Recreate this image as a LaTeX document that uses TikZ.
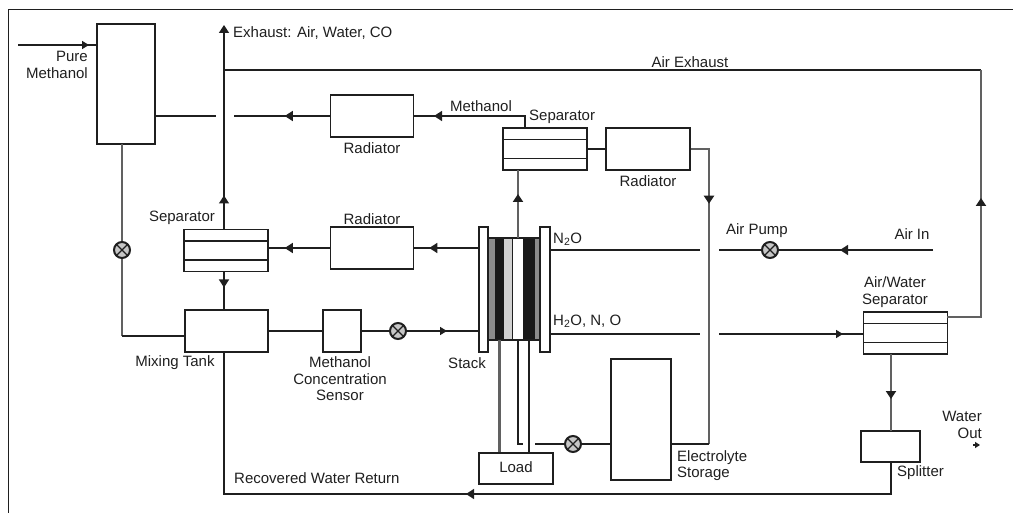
\documentclass[tikz,border=0pt]{standalone}
\usepackage{fontspec}
\setmainfont{Liberation Sans}
\usetikzlibrary{arrows.meta,decorations.markings}
\definecolor{ink}{gray}{0.12}
\tikzset{
  box/.style={draw=ink, line width=1.5pt, inner sep=0pt},
  sepbox/.style={box, minimum width=84pt, minimum height=42pt,
    path picture={
      \draw[ink, line width=1.5pt] ([yshift=-11.5pt]path picture bounding box.north west) -- ([yshift=-11.5pt]path picture bounding box.north east);
      \draw[ink, line width=1.5pt] ([yshift=11.5pt]path picture bounding box.south west) -- ([yshift=11.5pt]path picture bounding box.south east);
    }},
  pumpnode/.style={circle, draw=ink, line width=2pt, fill=gray!45, minimum size=16pt, inner sep=0pt,
    path picture={
      \draw[ink, line width=1.4pt] (path picture bounding box.north west) -- (path picture bounding box.south east);
      \draw[ink, line width=1.4pt] (path picture bounding box.south west) -- (path picture bounding box.north east);
    }},
  pipe/.style={draw=ink, line width=1.5pt},
  graypipe/.style={draw=black!62, line width=2.4pt},
  flow/.style={postaction={decorate}, decoration={markings, mark=at position #1 with {\arrow[ink]{Triangle[length=8pt,width=10pt]}}}},
  smallflow/.style={postaction={decorate}, decoration={markings, mark=at position #1 with {\arrow[ink]{Triangle[length=7pt,width=8pt]}}}},
  lab/.style={inner sep=0pt, text=ink, align=center, font=\fontsize{15}{16.5}\selectfont},
}
\begin{document}
\begin{tikzpicture}[x=1pt, y=-1pt]
  \useasboundingbox (0,0) rectangle (1013,513);
  % frame
  \draw[ink, line width=1.6pt] (1013,9.5) -- (8.5,9.5) -- (8.5,513);

  % boxes
  \node[box, minimum width=58pt, minimum height=120pt] (tank) at (126,84) {};
  \node[box, minimum width=83pt, minimum height=42pt] (radtop) at (372,116) {};
  \node[box, minimum width=83pt, minimum height=42pt] (radmid) at (372,248) {};
  \node[box, minimum width=84pt, minimum height=42pt] (radright) at (648,149) {};
  \node[sepbox] (septop) at (545,149) {};
  \node[sepbox] (sepleft) at (226,250.5) {};
  \node[sepbox] (sepair) at (905.5,333) {};
  \node[box, minimum width=83pt, minimum height=42pt] (mixing) at (226.5,331) {};
  \node[box, minimum width=38pt, minimum height=42pt] (sensor) at (342,331) {};
  \node[box, minimum width=74pt, minimum height=31pt] (load) at (516,468.5) {};
  \node[box, minimum width=60pt, minimum height=121pt] (storage) at (641,419.5) {};
  \node[box, minimum width=59pt, minimum height=31pt] (splitter) at (890.5,446.5) {};

  % stack
  \fill[black!45] (488,238) rectangle (495,340);
  \fill[black!90] (495,238) rectangle (504,340);
  \fill[black!18] (504,238) rectangle (512,340);
  \fill[black!90] (523,238) rectangle (535,340);
  \fill[black!45] (535,238) rectangle (540,340);
  \draw[ink, line width=1.2pt] (512.5,238) -- (512.5,340);
  \node[box, minimum width=52pt, minimum height=102pt] (stack) at (514,289) {};
  \node[box, minimum width=9pt, minimum height=125pt] (plateleft) at (483.5,289.5) {};
  \node[box, minimum width=10pt, minimum height=125pt] (plateright) at (545,289.5) {};

  % pumps
  \node[pumpnode] (pumpmethanol) at (122,250) {};
  \node[pumpnode] (pumpfuel) at (398,331) {};
  \node[pumpnode] (pumpair) at (770,250) {};
  \node[pumpnode] (pumpelectrolyte) at (573,444) {};

  % free ends
  \coordinate (pureend) at (18,45);
  \coordinate (airin) at (933,250);
  \coordinate (exhausttop) at (224,25);
  \coordinate (junction) at (224,70);
  \coordinate (aircorner) at (981,70);
  \coordinate (gapmethl) at (216,116);
  \coordinate (gapmethr) at (234,116);
  \coordinate (stackup) at (518,238);
  \coordinate (wireleft) at (499.5,340);
  \coordinate (wireright) at (529,340);
  \coordinate (feedright) at (518,340);
  \coordinate (feedhook) at (523,444);
  \coordinate (feedgap) at (535,444);
  \coordinate (gaponel) at (700,250);
  \coordinate (gaponer) at (719,250);
  \coordinate (gaptwol) at (700,334);
  \coordinate (gaptwor) at (719,334);
  \coordinate (plateout) at (550,334);
  \coordinate (waterturn) at (224,494);
  \coordinate (returnleft) at (224,352);
  \coordinate (returnright) at (891,494);
  \coordinate (splitout) at (891,462);
  \coordinate (splitin) at (891,431);
  \coordinate (sepairdown) at (891,354);
  \coordinate (exhaustsep) at (224,229.5);
  \coordinate (mixdown) at (224,271.5);
  \coordinate (mixup) at (224,310);
  \coordinate (septopup) at (525,128);
  \coordinate (methturn) at (525,116);
  \coordinate (radturn) at (709,149);
  \coordinate (stackturn) at (709,444);
  \coordinate (methanolgray) at (122,144);
  \coordinate (methanolturn) at (122,336);
  \coordinate (septopdown) at (518,170);
  \coordinate (sepairout) at (947,317);
  \coordinate (airturn) at (981,317);
  \coordinate (outl) at (973,445);
  \coordinate (outr) at (980,445);

  % lines
  \draw[pipe, smallflow=71pt] (pureend) -- (tank.west |- pureend);
  \draw[pipe] (radtop.west -| tank.east) -- (gapmethl);
  \draw[pipe, flow=45pt] (radtop.west) -- (gapmethr);
  \draw[pipe, flow=103pt] (septopup) -- (methturn) -- (radtop.east);
  \draw[pipe, flow=34pt, -{Triangle[length=8pt,width=10pt]}] (exhaustsep) -- (exhausttop);
  \draw[pipe] (junction) -- (aircorner);
  \draw[graypipe, flow=153pt] (sepairout) -- (airturn) -- (aircorner);
  \draw[graypipe] (methanolgray) -- (pumpmethanol);
  \draw[graypipe] (pumpmethanol) -- (methanolturn);
  \draw[pipe] (methanolturn) -- (mixing.west |- methanolturn);
  \draw[pipe, flow=16pt] (mixdown) -- (mixup);
  \draw[pipe] (mixing.east) -- (sensor.west);
  \draw[pipe] (sensor.east) -- (pumpfuel);
  \draw[pipe, smallflow=40pt] (pumpfuel) -- (plateleft.west |- pumpfuel);
  \draw[pipe, flow=49pt] (plateleft.west |- radmid.east) -- (radmid.east);
  \draw[pipe, flow=45pt] (radmid.west) -- (sepleft.east |- radmid.west);
  \draw[graypipe, flow=44pt] (stackup) -- (septopdown);
  \draw[pipe] (septop.east) -- (radright.west);
  \draw[graypipe, flow=73pt] (radright.east) -- (radturn) -- (stackturn);
  \draw[pipe] (stackturn) -- (storage.east |- stackturn);
  \draw[pipe] (storage.west |- stackturn) -- (pumpelectrolyte);
  \draw[pipe] (pumpelectrolyte) -- (feedgap);
  \draw[graypipe] (wireleft) -- (load.north -| wireleft);
  \draw[pipe] (feedright) -- (feedright |- feedhook) -- (feedhook);
  \draw[pipe] (wireright) -- (load.north -| wireright);
  \draw[pipe] (plateright.east |- airin) -- (gaponel);
  \draw[pipe] (gaponer) -- (pumpair);
  \draw[pipe, flow=93pt] (airin) -- (pumpair);
  \draw[pipe] (plateout) -- (gaptwol);
  \draw[pipe, smallflow=124pt] (gaptwor) -- (sepair.west |- gaptwor);
  \draw[graypipe, flow=45pt] (sepairdown) -- (splitin);
  \draw[pipe, flow=457pt] (splitout) -- (returnright) -- (waterturn) -- (returnleft);
  \draw[pipe, -{Triangle[length=5pt,width=6pt]}] (outl) -- (outr);

  % labels
  \node[lab, anchor=east, align=right] (labpure) at (88,65) {Pure\\Methanol};
  \node[lab, anchor=west] (labexhaust) at (233,33) {Exhaust: Air, Water, CO};
  \node[lab, anchor=south] (labairex) at (690,68) {Air Exhaust};
  \node[lab] (labmethanol) at (481,106) {Methanol};
  \node[lab, anchor=west] (labseptop) at (529,117) {Separator};
  \node[lab] (labradtop) at (372,148) {Radiator};
  \node[lab] (labradright) at (648,181) {Radiator};
  \node[lab] (labradmid) at (372,219) {Radiator};
  \node[lab] (labsepleft) at (182,218) {Separator};
  \node[lab, anchor=west] (labntwo) at (553,239) {N\textsubscript{2}O};
  \node[lab] (labpump) at (757,231) {Air Pump};
  \node[lab] (labairin) at (912,234) {Air In};
  \node[lab, anchor=west] (labhtwo) at (553,321) {H\textsubscript{2}O, N, O};
  \node[lab] (labsepair) at (895,292) {Air/Water\\Separator};
  \node[lab] (labmixing) at (175,363) {Mixing Tank};
  \node[lab] (labsensor) at (340,379) {Methanol\\Concentration\\Sensor};
  \node[lab] (labstack) at (467,363) {Stack};
  \node[lab, anchor=west] (labwater) at (234,478) {Recovered Water Return};
  \node[lab] (labload) at (516,467) {Load};
  \node[lab, anchor=west, align=left] (labstorage) at (677,465.5) {Electrolyte\\Storage};
  \node[lab, anchor=west] (labsplitter) at (897,473) {Splitter};
  \node[lab, anchor=east, align=right] (labout) at (982,425) {Water\\Out};
\end{tikzpicture}
\end{document}
